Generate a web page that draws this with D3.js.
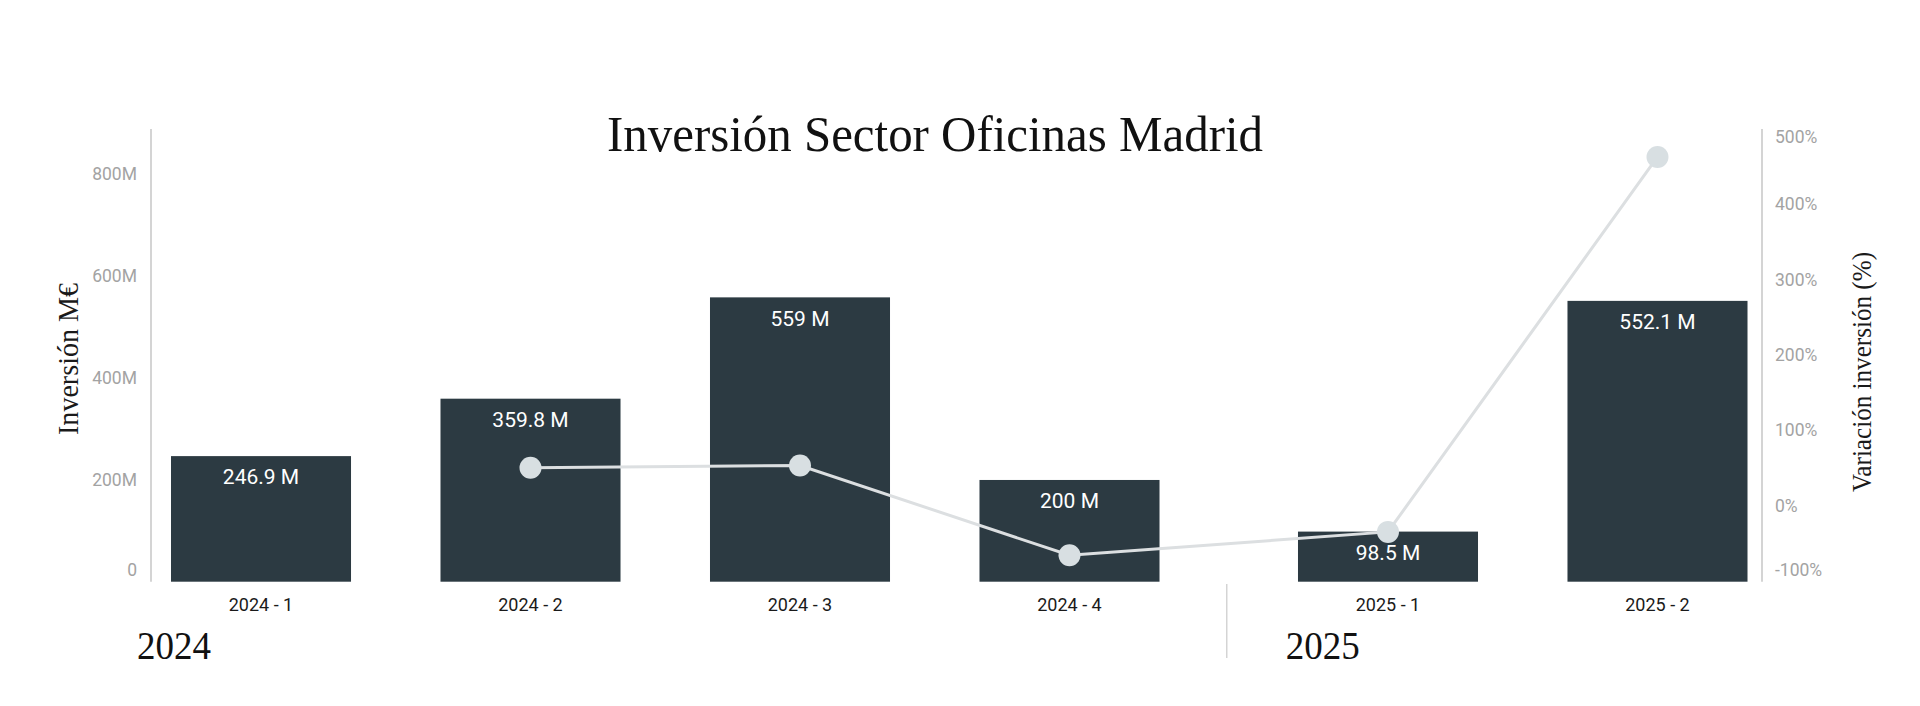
<!DOCTYPE html>
<html>
<head>
<meta charset="utf-8">
<script src="https://cdn.jsdelivr.net/npm/d3@7"></script>
<style>
  html, body { margin: 0; padding: 0; background: #fff; }
  svg { display: block; }
</style>
</head>
<body>
<svg id="chart" width="1920" height="706"></svg>
<script>
(function () {
  "use strict";

  // ---- data ---------------------------------------------------------------
  var CATEGORIES = ["2024 - 1", "2024 - 2", "2024 - 3", "2024 - 4", "2025 - 1", "2025 - 2"];
  var CAT_YEAR   = ["2024", "2024", "2024", "2024", "2025", "2025"];
  var YEARS      = ["2024", "2025"];
  var INVERSION  = [246.9, 359.8, 559, 200, 98.5, 552.1];          // M€
  var BAR_LABELS = ["246.9 M", "359.8 M", "559 M", "200 M", "98.5 M", "552.1 M"];
  var VARIACION  = [null, 51, 54, -65, -34, 463];                   // %
  var LEFT_TICKS  = [0, 200, 400, 600, 800];
  var RIGHT_TICKS = [-100, 0, 100, 200, 300, 400, 500];

  var COL = { bar: "#2c3a42", line: "#dcdfe1", dot: "#d8dfe2",
              axis: "#d4d4d4", tick: "#a3a3a3", text: "#1a1a1a" };
  var SERIF = "'Liberation Serif', 'DejaVu Serif', serif";
  var SANS = "Roboto, 'Noto Sans', sans-serif";

  // ---- layout -------------------------------------------------------------
  var PL = 151, PR = 1762, PT = 129, PB = 581.7;
  var GROUP_GAP = 49;

  var svg = d3.select("#chart");

  var x = d3.scaleBand().domain(CATEGORIES)
    .range([PL, PL + 1567.5]).paddingInner(0.332).paddingOuter(0.0742);
  function xPos(i) { return x(CATEGORIES[i]) + (CAT_YEAR[i] === "2025" ? GROUP_GAP : 0); }
  function xMid(i) { return xPos(i) + x.bandwidth() / 2; }

  var yL = d3.scaleLinear().domain([0, 890]).range([PB, PT]);
  var yR = d3.scaleLinear().domain([-100, 500]).range([PB, PT]);
  function clampY(v) { return Math.max(137, Math.min(570, v)); }

  // ---- title --------------------------------------------------------------
  svg.append("text")
    .attr("x", 607).attr("y", 151)
    .attr("textLength", 656).attr("lengthAdjust", "spacingAndGlyphs")
    .style("font-family", SERIF).style("font-size", "50px")
    .attr("fill", "#111").text("Inversión Sector Oficinas Madrid");

  // ---- axes ---------------------------------------------------------------
  function styleAxis(g, scale) {
    g.select(".domain").remove();
    g.selectAll(".tick").attr("transform", function (d) {
      return "translate(0," + clampY(scale(d)) + ")";
    });
    g.selectAll("text").attr("fill", COL.tick)
      .style("font-family", SANS).style("font-size", "17.5px");
  }
  var gL = svg.append("g").attr("transform", "translate(" + PL + ",0)")
    .call(d3.axisLeft(yL).tickValues(LEFT_TICKS).tickSize(0).tickPadding(14)
      .tickFormat(function (d) { return d === 0 ? "0" : d + "M"; }));
  styleAxis(gL, yL);
  var gR = svg.append("g").attr("transform", "translate(" + PR + ",0)")
    .call(d3.axisRight(yR).tickValues(RIGHT_TICKS).tickSize(0).tickPadding(13)
      .tickFormat(function (d) { return d + "%"; }));
  styleAxis(gR, yR);

  [PL, PR].forEach(function (xx) {
    svg.append("line").attr("x1", xx).attr("x2", xx).attr("y1", PT).attr("y2", PB)
      .attr("stroke", COL.axis).attr("stroke-width", 2);
  });

  svg.append("text")
    .attr("transform", "translate(78," + 359 + ") rotate(-90)")
    .attr("text-anchor", "middle")
    .attr("textLength", 152).attr("lengthAdjust", "spacingAndGlyphs")
    .style("font-family", SERIF).style("font-size", "30px")
    .attr("fill", COL.text).text("Inversión M€");
  svg.append("text")
    .attr("transform", "translate(1871," + 372 + ") rotate(-90)")
    .attr("text-anchor", "middle")
    .attr("textLength", 240).attr("lengthAdjust", "spacingAndGlyphs")
    .style("font-family", SERIF).style("font-size", "28px")
    .attr("fill", COL.text).text("Variación inversión (%)");

  // ---- bars ---------------------------------------------------------------
  var idx = d3.range(CATEGORIES.length);
  svg.append("g").selectAll("rect").data(idx).enter().append("rect")
    .attr("x", xPos).attr("width", x.bandwidth())
    .attr("y", function (i) { return yL(INVERSION[i]); })
    .attr("height", function (i) { return yL(0) - yL(INVERSION[i]); })
    .attr("fill", COL.bar);

  svg.append("g").selectAll("text").data(idx).enter().append("text")
    .attr("x", xMid)
    .attr("y", function (i) { return yL(INVERSION[i]) + 21; })
    .attr("dy", "0.35em").attr("text-anchor", "middle")
    .style("font-family", SANS).style("font-size", "21px")
    .attr("fill", "#fff").text(function (i) { return BAR_LABELS[i]; });

  // ---- category + year axis -----------------------------------------------
  svg.append("g").selectAll("text").data(idx).enter().append("text")
    .attr("x", xMid).attr("y", 611).attr("text-anchor", "middle")
    .style("font-family", SANS).style("font-size", "18px")
    .attr("fill", COL.text).text(function (i) { return CATEGORIES[i]; });

  var sepX = (xPos(3) + x.bandwidth() + xPos(4)) / 2 - 2;
  svg.append("line").attr("x1", sepX).attr("x2", sepX).attr("y1", 584).attr("y2", 658)
    .attr("stroke", COL.axis).attr("stroke-width", 1.5);

  var yearX = [PL - 14, sepX + 59];
  svg.append("g").selectAll("text").data(YEARS).enter().append("text")
    .attr("x", function (d, i) { return yearX[i]; }).attr("y", 659)
    .attr("textLength", 74).attr("lengthAdjust", "spacingAndGlyphs")
    .style("font-family", SERIF).style("font-size", "40px")
    .attr("fill", "#111").text(function (d) { return d; });

  // ---- variation line -----------------------------------------------------
  var pts = idx.filter(function (i) { return VARIACION[i] !== null; });
  var line = d3.line()
    .x(function (i) { return xMid(i); })
    .y(function (i) { return yR(VARIACION[i]); });
  svg.append("path").datum(pts).attr("d", line)
    .attr("fill", "none").attr("stroke", COL.line).attr("stroke-width", 3);
  svg.append("g").selectAll("circle").data(pts).enter().append("circle")
    .attr("cx", xMid).attr("cy", function (i) { return yR(VARIACION[i]); })
    .attr("r", 11).attr("fill", COL.dot);
})();
</script>
</body>
</html>
